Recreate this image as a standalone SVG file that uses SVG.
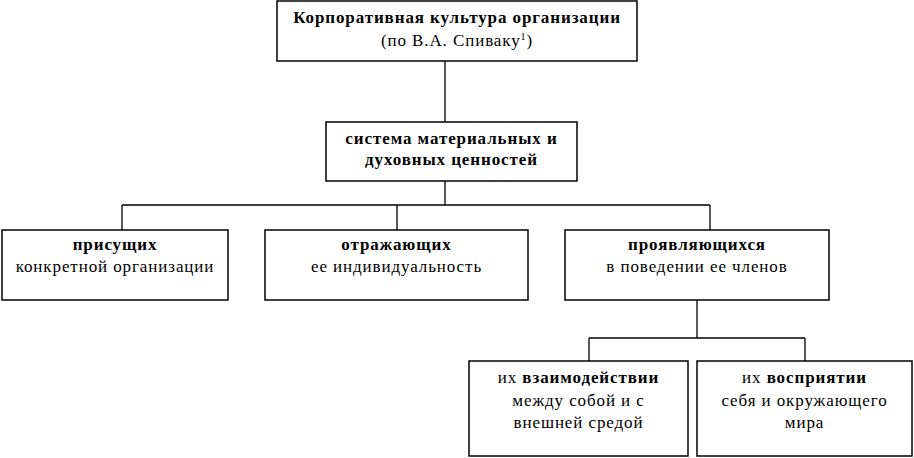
<svg xmlns="http://www.w3.org/2000/svg" width="914" height="458" viewBox="0 0 914 458">
<style>
.box{fill:#fff;stroke:#000;stroke-width:1.5}
.ln{fill:none;stroke:#000;stroke-width:1.3}
text{font-family:"Liberation Serif","Times New Roman",serif;font-size:17px;letter-spacing:0.9px;fill:#000;text-anchor:middle}
.b{font-weight:bold}
</style>
<rect width="914" height="458" fill="#fff"/>
<g id="connectors">
<path class="ln" d="M445 61V122"/>
<path class="ln" d="M445 181V205M122 205H710M122 205V230M397 205V230M710 205V230"/>
<path class="ln" d="M697 300V338M589 338H805M589 338V361M805 338V361"/>
</g>
<g id="n-root">
<rect class="box" x="277" y="1" width="360" height="60"/>
<text class="b" x="457" y="23">Корпоративная культура организации</text>
<text x="457" y="46">(по В.А. Спиваку<tspan font-size="10" dy="-6">1</tspan><tspan dy="6">)</tspan></text>
</g>
<g id="n-system">
<rect class="box" x="326" y="122" width="251" height="59"/>
<text class="b" x="451.5" y="144">система материальных и</text>
<text class="b" x="451.5" y="165">духовных ценностей</text>
</g>
<g id="n-inherent">
<rect class="box" x="2" y="230" width="226" height="70"/>
<text class="b" x="115" y="250">присущих</text>
<text x="115" y="272">конкретной организации</text>
</g>
<g id="n-reflect">
<rect class="box" x="265" y="230" width="263" height="70"/>
<text class="b" x="396.5" y="250">отражающих</text>
<text x="396.5" y="272">ее индивидуальность</text>
</g>
<g id="n-manifest">
<rect class="box" x="565" y="230" width="264" height="70"/>
<text class="b" x="697" y="250">проявляющихся</text>
<text x="697" y="272">в поведении ее членов</text>
</g>
<g id="n-interact">
<rect class="box" x="469" y="361" width="219" height="95"/>
<text x="578.5" y="383">их <tspan class="b">взаимодействии</tspan></text>
<text x="578.5" y="406">между собой и с</text>
<text x="578.5" y="428">внешней средой</text>
</g>
<g id="n-perceive">
<rect class="box" x="697" y="361" width="215" height="95"/>
<text x="804.5" y="383">их <tspan class="b">восприятии</tspan></text>
<text x="804.5" y="406">себя и окружающего</text>
<text x="804.5" y="428">мира</text>
</g>
</svg>
